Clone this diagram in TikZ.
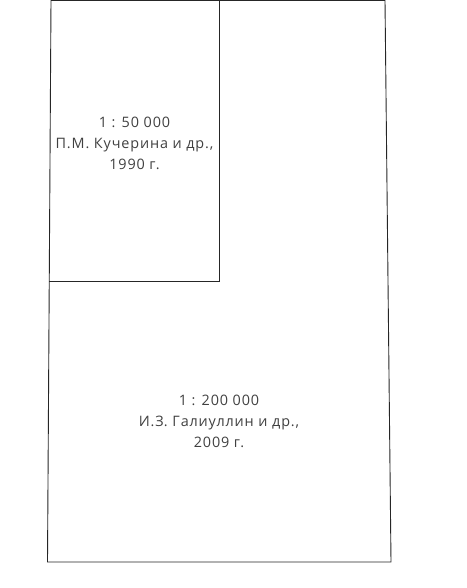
\documentclass[tikz,border=0pt]{standalone}
\usepackage{fontspec}
\setmainfont{Open Sans}[LetterSpace=6]
\begin{document}
\begin{tikzpicture}[x=1pt,y=1pt,
  edge/.style={draw=black!85,line width=0.9pt,line join=miter},
  lbl/.style={align=center,font=\fontsize{14.4}{21}\selectfont,text=black!75}]
\useasboundingbox (0,0) rectangle (466,588);
\coordinate (tl) at (51,587.5);
\coordinate (tr) at (385,587.5);
\coordinate (br) at (391,26);
\coordinate (bl) at (47.5,26);
\coordinate (it) at (219,587.5);
\coordinate (ib) at (219,307);
\coordinate (il) at (49.2,307);
\draw[edge] (tl) -- (tr) -- (br) -- (bl) -- cycle;
\draw[edge] (it) -- (ib) -- (il);
\node[lbl] (a) at (134.5,445) {1 : 50 000\\П.М. Кучерина и др.,\\1990 г.};
\node[lbl] (b) at (219,167) {1 : 200 000\\И.З. Галиуллин и др.,\\2009 г.};
\end{tikzpicture}
\end{document}
